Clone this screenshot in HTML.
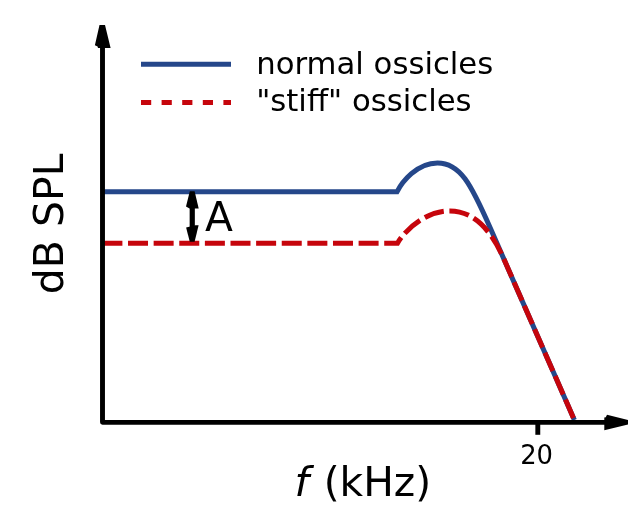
<!DOCTYPE html>
<html><head><meta charset="utf-8">
<style>
html,body{margin:0;padding:0;background:#fff;}
body{width:640px;height:512px;overflow:hidden;}
svg{display:block;}
text{font-family:"DejaVu Sans","Liberation Sans",sans-serif;fill:#000;}
</style></head><body>
<svg width="640" height="512" viewBox="0 0 640 512">
<rect width="640" height="512" fill="#fff"/>
<!-- curves -->
<path id="blue" d="M102.5 191.8 L397 191.8 C402.10 182.01 416.76 162.95 437.48 162.95 C459.97 162.95 470.69 183.27 490.50 228.51 L574.38 420" fill="none" stroke="#25478a" stroke-width="5" stroke-linejoin="miter"/>
<path id="red" d="M102.4 243.2 L397.5 243.2 C406.29 228.07 427.02 210.92 449.88 210.92 C482.64 210.92 498.60 246.99 505.10 261.83 L574.38 420" fill="none" stroke="#c6050c" stroke-width="5" stroke-dasharray="20 5.62"/>
<!-- axes -->
<path d="M102.5 46 L102.5 422.35 L606 422.35" fill="none" stroke="#000" stroke-width="4.9" stroke-linejoin="round"/>
<polygon points="99.5,25 105,25 110.6,48 98,48 97.6,46.4 94.9,45.2" fill="#000"/>
<polygon points="628,419.9 628,424.6 604.3,430.2 604.3,417.6 605.8,417.2 607,414.8" fill="#000"/>
<line x1="537.8" y1="422" x2="537.8" y2="434.8" stroke="#000" stroke-width="4.9"/>
<text x="536.6" y="464.4" font-size="25.8" text-anchor="middle">20</text>
<!-- labels -->
<text x="294.4" y="496.0" font-size="41" font-style="italic">f</text>
<text x="431.2" y="496.1" font-size="40.8" text-anchor="end">(kHz)</text>
<text transform="translate(62.6 223.9) rotate(-90)" font-size="41" text-anchor="middle">dB SPL</text>
<!-- legend -->
<line x1="141" y1="64.3" x2="231" y2="64.3" stroke="#25478a" stroke-width="5"/>
<line x1="141" y1="102.5" x2="231" y2="102.5" stroke="#c6050c" stroke-width="5" stroke-dasharray="10.2 10.4"/>
<text x="256.2" y="73.6" font-size="30.72">normal ossicles</text>
<text x="256.2" y="110.9" font-size="30.72">"stiff" ossicles</text>
<!-- A arrow -->
<line x1="192.25" y1="205" x2="192.25" y2="229" stroke="#000" stroke-width="5.2"/>
<polygon points="189.8,191.3 194.6,191.3 198.7,208.5 189.5,208.5 186,206.6" fill="#000"/>
<polygon points="189.8,241.8 194.6,241.8 198.6,225.2 195.5,225.2 186.1,227.6" fill="#000"/>
<text x="204.9" y="231.4" font-size="40.8">A</text>
</svg>
</body></html>
